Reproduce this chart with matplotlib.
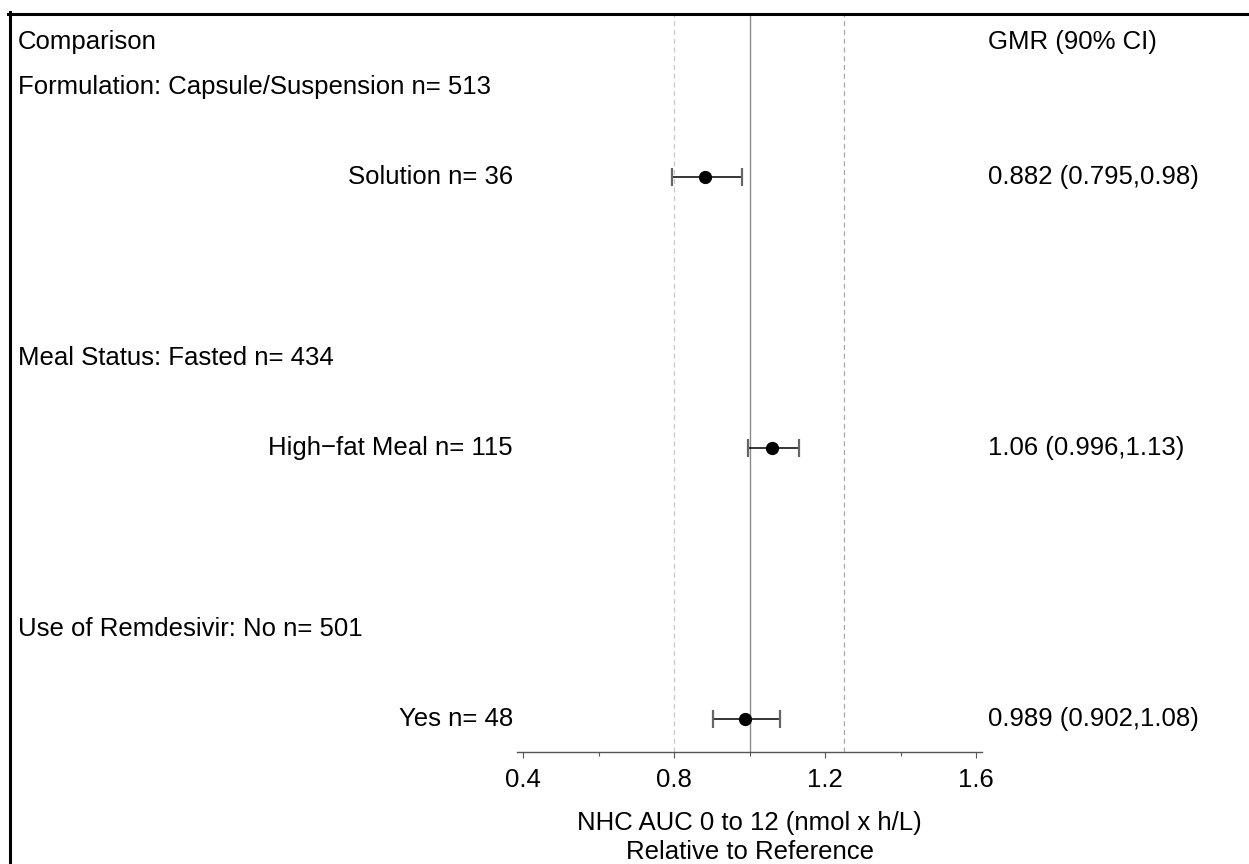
import matplotlib
matplotlib.use('Agg')
import matplotlib.pyplot as plt
from matplotlib.lines import Line2D
from matplotlib.ticker import MultipleLocator
import matplotlib.transforms as mtransforms

plt.rcParams['font.family'] = ['Liberation Sans', 'DejaVu Sans']

# forest plot data
group_labels = ['Formulation: Capsule/Suspension n= 513',
                'Meal Status: Fasted n= 434',
                'Use of Remdesivir: No n= 501']
item_labels = ['Solution n= 36', 'High\u2212fat Meal n= 115', 'Yes n= 48']
gmr = [0.882, 1.06, 0.989]
ci_lo = [0.795, 0.996, 0.902]
ci_hi = [0.98, 1.13, 1.08]
group_rows = [1, 7, 13]
item_rows = [3, 9, 15]
ref_lines = [0.8, 1.0, 1.25]
xticks = [0.4, 0.8, 1.2, 1.6]

W, H = 1249, 864
fs = 18.5
fig = plt.figure(figsize=(W / 100, H / 100), dpi=100)

# axes placed in pixel terms
left, right, top, bottom = 517, 982, 13, 752
ax = fig.add_axes([left / W, 1 - bottom / H, (right - left) / W, (bottom - top) / H])
ax.set_xlim(0.4 - 6 / 377.5, 1.6 + 6 / 377.5)
row_px = 45.13
ax.set_ylim((bottom - 42) / row_px, (top - 42) / row_px)

for s in ['top', 'left', 'right']:
    ax.spines[s].set_visible(False)
ax.spines['bottom'].set_color('#555555')
ax.spines['bottom'].set_linewidth(1.0)
ax.set_yticks([])
ax.set_xticks(xticks)
ax.set_xticklabels(['0.4', '0.8', '1.2', '1.6'], fontsize=fs)
ax.xaxis.set_minor_locator(MultipleLocator(0.2))
ax.tick_params(axis='x', which='major', direction='out', length=4.5, width=0.8,
               color='#555555', pad=7)
ax.tick_params(axis='x', which='minor', direction='out', length=3, width=0.8,
               color='#555555')

# reference lines
ax.axvline(ref_lines[0], color='#c8c8c8', lw=0.9, ls=(0, (4, 3)), zorder=1)
ax.axvline(ref_lines[1], color='#8c8c8c', lw=1.0, zorder=1)
ax.axvline(ref_lines[2], color='#a8a8a8', lw=0.9, ls=(0, (4, 3)), zorder=1)

# CI whiskers, caps and points
ax.hlines(item_rows, ci_lo, ci_hi, color='black', lw=1.1, zorder=3)
ax.plot(ci_lo, item_rows, ls='none', marker='|', ms=13, mew=1.6, color='#666666', zorder=3)
ax.plot(ci_hi, item_rows, ls='none', marker='|', ms=13, mew=1.6, color='#666666', zorder=3)
ax.plot(gmr, item_rows, ls='none', marker='o', ms=8.5, color='black', zorder=4)

ax.set_xlabel('NHC AUC 0 to 12 (nmol x h/L)\nRelative to Reference', fontsize=fs,
              labelpad=14, linespacing=1.25)

# text columns
trans = mtransforms.blended_transform_factory(fig.transFigure, ax.transData)
ax.text(18 / W, 0, 'Comparison', transform=trans, ha='left', va='center', fontsize=fs)
ax.text(988 / W, 0, 'GMR (90% CI)', transform=trans, ha='left', va='center', fontsize=fs)
for r, lab in zip(group_rows, group_labels):
    ax.text(18 / W, r, lab, transform=trans, ha='left', va='center', fontsize=fs)
for r, lab, g, l, h in zip(item_rows, item_labels, gmr, ci_lo, ci_hi):
    ax.text(513 / W, r, lab, transform=trans, ha='right', va='center', fontsize=fs)
    ax.text(988 / W, r, f'{g:g} ({l:g},{h:g})', transform=trans, ha='left',
            va='center', fontsize=fs)

# outer frame (cropped at right and bottom)
fig.add_artist(Line2D([9.5 / W, 9.5 / W], [0, 1 - 12 / H], transform=fig.transFigure,
                      color='black', lw=2.2))
fig.add_artist(Line2D([8 / W, 1], [1 - 13.5 / H, 1 - 13.5 / H], transform=fig.transFigure,
                      color='black', lw=2.2))

fig.savefig('out.png', dpi=100)
